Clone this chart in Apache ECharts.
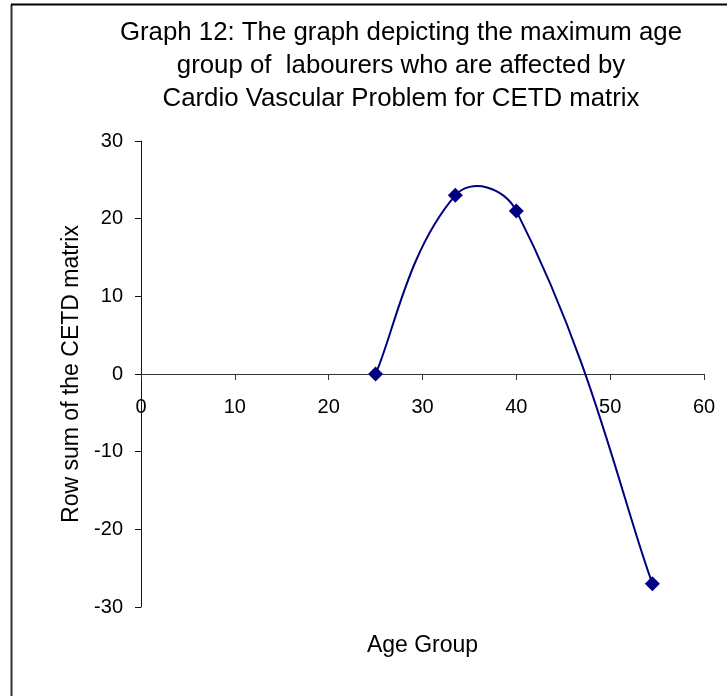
<!DOCTYPE html>
<html>
<head>
<meta charset="utf-8">
<script src="https://cdn.jsdelivr.net/npm/echarts@6/dist/echarts.min.js"></script>
<style>html,body{margin:0;padding:0;background:#fff;}#c{width:727px;height:696px;}</style>
</head>
<body>
<div id="c"></div>
<script>
var ageGroups = [25, 33.5, 40, 54.5];
var rowSums = [0, 23, 21, -27];
var xTicks = [0, 10, 20, 30, 40, 50, 60];
var yTicks = [-30, -20, -10, 0, 10, 20, 30];

var points = ageGroups.map(function (x, i) { return [x, rowSums[i]]; });
var chart = echarts.init(document.getElementById('c'));
var font = 'Liberation Sans, Arial, sans-serif';
var TENSION = 0.45;

// Excel-like smoothed curve drawn in pixel space through the axes' scales
function renderCurve(params, api) {
  if (params.dataIndex !== 0) return null;
  var px = points.map(function (p) { return api.coord(p); });
  var n = px.length;
  function dist(a, b) { return Math.sqrt((a[0]-b[0])*(a[0]-b[0]) + (a[1]-b[1])*(a[1]-b[1])); }
  var children = [];
  for (var i = 0; i < n - 1; i++) {
    var p0 = px[Math.max(i - 1, 0)], p1 = px[i], p2 = px[i + 1], p3 = px[Math.min(i + 2, n - 1)];
    var d01 = dist(p0, p1), d12 = dist(p1, p2), d23 = dist(p2, p3);
    var f1 = i === 0 ? 0.5 : d12 / (d01 + d12);
    var f2 = i === n - 2 ? 0.5 : d12 / (d12 + d23);
    var cp1 = [p1[0] + (p2[0] - p0[0]) * TENSION * f1, p1[1] + (p2[1] - p0[1]) * TENSION * f1];
    var cp2 = [p2[0] - (p3[0] - p1[0]) * TENSION * f2, p2[1] - (p3[1] - p1[1]) * TENSION * f2];
    children.push({
      type: 'bezierCurve',
      shape: { x1: p1[0], y1: p1[1], x2: p2[0], y2: p2[1], cpx1: cp1[0], cpy1: cp1[1], cpx2: cp2[0], cpy2: cp2[1] },
      style: { stroke: '#000080', lineWidth: 2, fill: null }
    });
  }
  return { type: 'group', children: children };
}

chart.setOption({
  animation: false,
  backgroundColor: '#fff',
  title: {
    text: 'Graph 12: The graph depicting the maximum age\ngroup of  labourers who are affected by\nCardio Vascular Problem for CETD matrix',
    left: 396, top: 11, textAlign: 'center',
    textStyle: { fontFamily: font, fontSize: 25.8, fontWeight: 'normal', color: '#000', lineHeight: 33 }
  },
  graphic: [
    { type: 'line', shape: { x1: 11.5, y1: 4.5, x2: 11.5, y2: 696 }, style: { stroke: '#333', lineWidth: 2 } },
    { type: 'line', shape: { x1: 11, y1: 4.5, x2: 727, y2: 4.5 }, style: { stroke: '#000', lineWidth: 2 } }
  ],
  grid: { left: 141, right: 23, top: 141, bottom: 89, containLabel: false, outerBoundsMode: 'none' },
  xAxis: {
    type: 'value', min: xTicks[0], max: xTicks[xTicks.length - 1], interval: 10,
    offset: -233,
    name: 'Age Group', nameLocation: 'middle', nameGap: 260,
    nameTextStyle: { fontFamily: font, fontSize: 23, color: '#000' },
    axisLine: { onZero: false, lineStyle: { color: '#333', width: 1 } },
    axisTick: { show: true, length: 6, lineStyle: { color: '#333' } },
    axisLabel: { fontFamily: font, fontSize: 20, color: '#000', margin: 23 },
    splitLine: { show: false }
  },
  yAxis: {
    type: 'value', min: yTicks[0], max: yTicks[yTicks.length - 1], interval: 10,
    name: 'Row sum of the CETD matrix', nameLocation: 'middle', nameGap: 58,
    nameTextStyle: { fontFamily: font, fontSize: 23, color: '#000' },
    axisLine: { show: true, lineStyle: { color: '#111', width: 1 } },
    axisTick: { show: true, length: 6, lineStyle: { color: '#111' } },
    axisLabel: { fontFamily: font, fontSize: 20, color: '#000', margin: 18 },
    splitLine: { show: false }
  },
  series: [{
    type: 'custom',
    renderItem: renderCurve,
    data: points,
    encode: { x: 0, y: 1 },
    z: 2
  }, {
    type: 'scatter',
    data: points,
    symbol: 'diamond', symbolSize: 15,
    itemStyle: { color: '#000080', opacity: 1 },
    z: 3
  }]
});
</script>
</body>
</html>
